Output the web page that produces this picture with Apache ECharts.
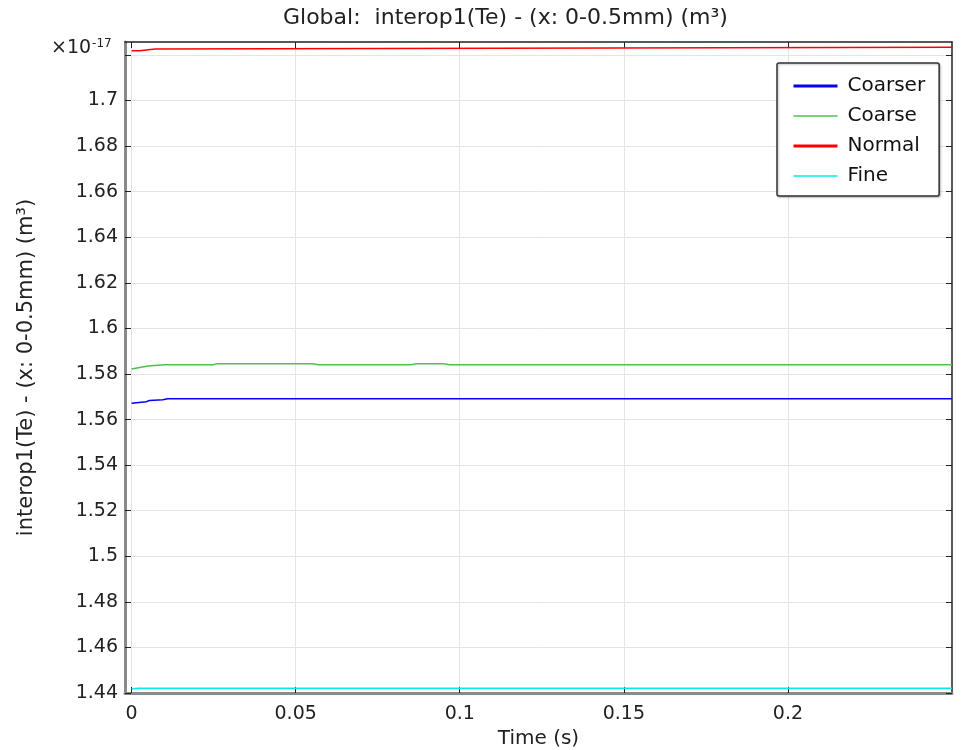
<!DOCTYPE html>
<html>
<head>
<meta charset="utf-8">
<title>interop1(Te)</title>
<script src="https://cdn.jsdelivr.net/npm/echarts@6/dist/echarts.min.js"></script>
<style>
  * { box-sizing: border-box; margin: 0; padding: 0; }
  html, body { width: 964px; height: 750px; background: #fff; }
  #chart { width: 964px; height: 750px; }
</style>
</head>
<body>
<div id="chart"></div>
<script>
  // values in units of 1e-17 m^3
  const coarserTime = [0, 0.0045, 0.0055, 0.0095, 0.011, 0.25];
  const coarserVal = [1.5672, 1.5678, 1.5684, 1.5687, 1.5691, 1.5691];

  const coarseTime = [0, 0.005, 0.01, 0.025, 0.026, 0.055, 0.057, 0.085, 0.087, 0.095, 0.097, 0.25];
  const coarseVal = [1.5822, 1.5835, 1.5841, 1.5841, 1.5845, 1.5845, 1.5841, 1.5841, 1.5845, 1.5845, 1.5841, 1.5841];

  const normalTime = [0, 0.0025, 0.003, 0.0072, 0.0078, 0.25];
  const normalVal = [1.7219, 1.7219, 1.7226, 1.7226, 1.7234, 1.7234];

  const fineTime = [0, 0.002, 0.25];
  const fineVal = [1.4418, 1.4421, 1.4421];

  const xTicks = [0, 0.05, 0.1, 0.15, 0.2];
  const yTicks = [1.44, 1.46, 1.48, 1.5, 1.52, 1.54, 1.56, 1.58, 1.6, 1.62, 1.64, 1.66, 1.68, 1.7, 1.72];

  const pairs = (t, v) => t.map((x, i) => [x, v[i]]);

  const myChart = echarts.init(document.getElementById('chart'));
  const font = 'DejaVu Sans';
  const gridLine = { show: true, lineStyle: { color: '#e4e4e4', width: 1 } };

  const option = {
    animation: false,
    textStyle: { fontFamily: font },
    title: {
      text: 'Global:  interop1(Te) - (x: 0-0.5mm) (m³)',
      left: 278,
      top: 2,
      textStyle: { fontFamily: font, fontSize: 22, fontWeight: 'normal', color: '#222' }
    },
    legend: {
      orient: 'vertical',
      left: 777,
      top: 63,
      padding: [13, 14, 10, 15],
      itemWidth: 44,
      itemHeight: 14,
      itemGap: 10,
      backgroundColor: '#fff',
      borderColor: '#333',
      borderWidth: 1.5,
      borderRadius: 2,
      shadowColor: 'rgba(0,0,0,0.25)',
      shadowBlur: 2,
      shadowOffsetX: 1,
      shadowOffsetY: 1,
      itemStyle: { opacity: 0 },
      textStyle: { fontFamily: font, fontSize: 20, color: '#111', padding: [0, 0, 0, 5] },
      data: [
        { name: 'Coarser', lineStyle: { width: 3 } },
        { name: 'Coarse', lineStyle: { width: 1.5 } },
        { name: 'Normal', lineStyle: { width: 3 } },
        { name: 'Fine', lineStyle: { width: 1.5 } }
      ]
    },
    grid: { left: 125, right: 12, top: 42, bottom: 57, outerBoundsMode: 'none' },
    xAxis: [
      {
        type: 'value',
        min: -0.002,
        max: 0.25,
        name: 'Time (s)',
        nameLocation: 'middle',
        nameGap: 27,
        nameTextStyle: { fontFamily: font, fontSize: 20, color: '#222' },
        axisLine: { show: true, onZero: false, lineStyle: { color: '#8a8a8a', width: 3 } },
        axisTick: { inside: true, length: 6, customValues: xTicks, lineStyle: { color: '#222' } },
        axisLabel: { customValues: xTicks, fontSize: 19, color: '#222', margin: 12 },
        splitLine: gridLine
      },
      {
        type: 'value',
        position: 'top',
        min: -0.002,
        max: 0.25,
        axisLine: { show: true, onZero: false, lineStyle: { color: '#222', width: 1.5 } },
        axisTick: { inside: true, length: 6, customValues: xTicks, lineStyle: { color: '#222' } },
        axisLabel: { show: false },
        splitLine: { show: false }
      }
    ],
    yAxis: [
      {
        type: 'value',
        min: 1.44,
        max: 1.7257,
        name: 'interop1(Te) - (x: 0-0.5mm) (m³)',
        nameLocation: 'middle',
        nameGap: 88,
        nameTextStyle: { fontFamily: font, fontSize: 21, color: '#222' },
        axisLine: { show: true, onZero: false, lineStyle: { color: '#8a8a8a', width: 3 } },
        axisTick: { inside: true, length: 6, customValues: yTicks, lineStyle: { color: '#222' } },
        axisLabel: {
          customValues: yTicks,
          fontSize: 19,
          color: '#222',
          margin: 7,
          formatter: v => (Math.abs(v - 1.72) < 1e-9 ? '' : String(+v.toFixed(2)))
        },
        splitLine: gridLine
      },
      {
        type: 'value',
        position: 'right',
        min: 1.44,
        max: 1.7257,
        axisLine: { show: true, onZero: false, lineStyle: { color: '#222', width: 1.5 } },
        axisTick: { inside: true, length: 6, customValues: yTicks, lineStyle: { color: '#222' } },
        axisLabel: { show: false },
        splitLine: { show: false }
      }
    ],
    graphic: [
      {
        type: 'text',
        left: 51,
        top: 38,
        style: {
          text: '{a|×10}{b|-17}',
          rich: {
            a: { fontFamily: font, fontSize: 19, fill: '#222' },
            b: { fontFamily: font, fontSize: 12, fill: '#222', verticalAlign: 'top', padding: [0, 0, 9, 1] }
          }
        }
      }
    ],
    series: [
      { name: 'Coarser', type: 'line', symbol: 'none', color: '#0000ff', lineStyle: { width: 1.5 }, data: pairs(coarserTime, coarserVal) },
      { name: 'Coarse', type: 'line', symbol: 'none', color: '#4cc24c', lineStyle: { width: 1.5 }, data: pairs(coarseTime, coarseVal) },
      { name: 'Normal', type: 'line', symbol: 'none', color: '#ff0000', lineStyle: { width: 1.5 }, data: pairs(normalTime, normalVal) },
      { name: 'Fine', type: 'line', symbol: 'none', color: '#00ecec', lineStyle: { width: 1.5 }, data: pairs(fineTime, fineVal) }
    ]
  };

  myChart.setOption(option);
</script>
</body>
</html>
